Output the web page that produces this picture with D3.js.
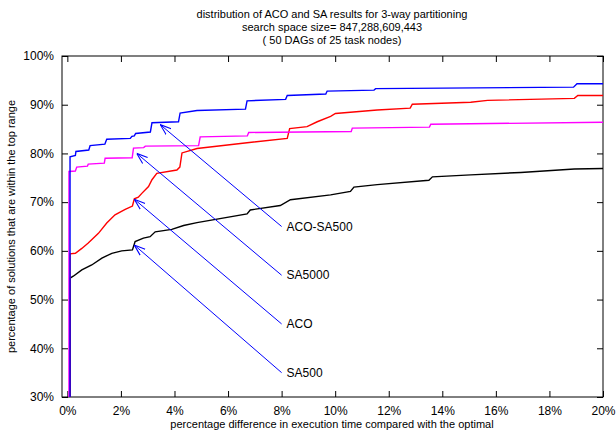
<!DOCTYPE html>
<html>
<head>
<meta charset="utf-8">
<script src="https://cdn.jsdelivr.net/npm/d3@7"></script>
<style>
  body { margin: 0; background: #fff; }
  svg text { font-family: "Liberation Sans", Arial, sans-serif; fill: #000; }
</style>
</head>
<body>
<div id="chart"></div>
<script>
// chart data (x = % difference, y = % of solutions)
var titleLines = ["distribution of ACO and SA results for 3-way partitioning",
                  "search space size= 847,288,609,443",
                  "( 50 DAGs of 25 task nodes)"];
var xTicks = [0, 2, 4, 6, 8, 10, 12, 14, 16, 18, 20];
var yTicks = [30, 40, 50, 60, 70, 80, 90, 100];

var acoSa500 = [[0.1,30],[0.1,79.3],[0.3,79.6],[0.32,80.4],[0.8,80.7],[0.85,81.6],[1.4,81.9],[1.47,82.9],
  [2.35,83.1],[2.41,83.5],[2.5,83.6],[2.55,84.1],[3.1,84.4],[3.16,86.3],[4.15,86.5],[4.21,88.3],[4.84,88.8],
  [6.65,89.1],[6.71,90.8],[8.15,91.1],[8.21,91.9],[9.65,92.2],[9.7,92.8],[11.45,93.0],[11.51,93.3],
  [18.9,93.6],[19.03,94.3],[20,94.3]];
var sa5000 = [[0.06,30],[0.06,76.3],[0.3,76.4],[0.35,77.2],[0.75,77.4],[0.78,77.8],[1.38,78.0],[1.41,79.0],
  [2.42,79.1],[2.47,81.1],[2.85,81.2],[2.91,81.5],[4.9,81.6],[4.96,83.4],[6.72,83.6],[6.77,84.3],
  [10.6,84.5],[10.64,85.2],[13.52,85.4],[13.57,86.0],[20,86.4]];
var aco = [[0.1,30],[0.1,59.4],[0.3,59.5],[0.54,60.5],[0.78,61.6],[1.16,63.6],[1.47,65.7],[1.78,67.4],
  [2.16,68.5],[2.43,69.2],[2.5,70.7],[2.65,71.0],[2.78,71.8],[3.03,73.2],[3.16,74.6],[3.34,75.9],
  [4.09,76.6],[4.2,77.2],[4.28,80.1],[4.84,81.0],[6.71,82.2],[8.21,83.1],[8.3,85.1],[8.95,85.5],
  [9.33,86.5],[9.83,87.6],[10.01,88.2],[11.57,88.9],[12.8,89.3],[12.88,90.1],[15.06,90.5],[15.69,90.9],
  [18.93,91.3],[19.06,91.9],[20,91.9]];
var sa500 = [[0.1,30],[0.1,54.4],[0.22,54.8],[0.54,56.1],[0.91,57.1],[1.29,58.5],[1.66,59.5],[2.03,60.0],
  [2.43,60.2],[2.53,61.9],[2.84,62.6],[3.09,62.9],[3.28,63.9],[3.9,64.4],[4.34,65.2],[4.84,65.8],
  [6.71,67.6],[6.83,68.4],[7.95,69.3],[8.33,70.5],[9.83,71.5],[10.57,72.2],[10.7,73.1],[11.57,73.6],
  [13.5,74.5],[13.63,75.2],[15.06,75.6],[16.93,76.1],[18.93,76.8],[20,76.9]];

// labels with arrows: label names, arrow tails (label anchor) and arrow tips
var arrowNames = ["ACO-SA500", "SA5000", "ACO", "SA500"];
var arrowFrom = [[8.0, 65.0], [8.0, 55.0], [8.0, 45.0], [8.0, 35.0]];
var arrowTo = [[3.47, 85.9], [2.59, 80.0], [2.5, 70.6], [2.5, 61.2]];

var series = [
  {name: "SA500", values: sa500, color: "#000000"},
  {name: "ACO", values: aco, color: "#ff0000"},
  {name: "SA5000", values: sa5000, color: "#ff00ff"},
  {name: "ACO-SA500", values: acoSa500, color: "#0000ff"}
];

//Set dimensions
var width = 616, height = 433;
var mLeft = 62, mRight = 603, mTop = 56, mBottom = 397;

var x = d3.scaleLinear().domain([-0.2, 20]).range([mLeft, mRight]);
var y = d3.scaleLinear().domain([30, 100]).range([mBottom, mTop]);

var svg = d3.select("#chart").append("svg")
    .attr("width", width)
    .attr("height", height);

//Title
svg.append("g").selectAll("text")
    .data(titleLines)
    .enter().append("text")
    .attr("x", 332)
    .attr("y", function (d, i) { return 18 + i * 13; })
    .attr("text-anchor", "middle")
    .style("font-size", "11px")
    .text(function (d) { return d; });

//Axes with inward ticks, mirrored on top and right
var fmt = function (d) { return d + "%"; };
var gx = svg.append("g").attr("transform", "translate(0," + mBottom + ")")
    .call(d3.axisBottom(x).tickValues(xTicks).tickFormat(fmt).tickSizeInner(-6).tickSizeOuter(0).tickPadding(8));
var gy = svg.append("g").attr("transform", "translate(" + mLeft + ",0)")
    .call(d3.axisLeft(y).tickValues(yTicks).tickFormat(fmt).tickSizeInner(-6).tickSizeOuter(0).tickPadding(8));
var gxt = svg.append("g").attr("transform", "translate(0," + mTop + ")")
    .call(d3.axisTop(x).tickValues(xTicks).tickFormat("").tickSizeInner(-6).tickSizeOuter(0));
var gyr = svg.append("g").attr("transform", "translate(" + mRight + ",0)")
    .call(d3.axisRight(y).tickValues(yTicks).tickFormat("").tickSizeInner(-6).tickSizeOuter(0));

[gx, gy, gxt, gyr].forEach(function (g) {
    g.select(".domain").remove();
    g.selectAll("text").style("font-size", "12px").attr("font-family", null);
});
gx.selectAll("text").attr("dy", "0.85em");

//Border
svg.append("rect")
    .attr("x", mLeft).attr("y", mTop)
    .attr("width", mRight - mLeft).attr("height", mBottom - mTop)
    .style("fill", "none").style("stroke", "#000").style("stroke-width", 1);

//Axis titles
svg.append("text")
    .attr("x", 332).attr("y", 428)
    .attr("text-anchor", "middle")
    .style("font-size", "11px")
    .text("percentage difference in execution time compared with the optimal");
svg.append("text")
    .attr("transform", "translate(15," + ((mTop + mBottom) / 2) + ") rotate(-90)")
    .attr("text-anchor", "middle")
    .style("font-size", "11px")
    .text("percentage of solutions that are within the top range");

//Lines
var line = d3.line()
    .x(function (d) { return x(d[0]); })
    .y(function (d) { return y(d[1]); });

var defs = svg.append("defs");
defs.append("clipPath").attr("id", "clip")
    .append("rect").attr("x", mLeft).attr("y", mTop)
    .attr("width", mRight - mLeft).attr("height", mBottom - mTop);

svg.append("g").attr("clip-path", "url(#clip)")
    .selectAll("path")
    .data(series)
    .enter().append("path")
    .attr("d", function (d) { return line(d.values); })
    .style("fill", "none")
    .style("stroke", function (d) { return d.color; })
    .style("stroke-width", 1.4);

//Arrows with open heads
defs.append("marker")
    .attr("id", "head")
    .attr("viewBox", "0 -5 10 10")
    .attr("refX", 10).attr("refY", 0)
    .attr("markerWidth", 11).attr("markerHeight", 11)
    .attr("markerUnits", "userSpaceOnUse")
    .attr("orient", "auto")
    .append("path")
    .attr("d", "M0,-3.5L10,0L0,3.5")
    .style("fill", "none")
    .style("stroke", "#0000ff")
    .style("stroke-width", 1);

var arrows = svg.append("g").selectAll("g")
    .data(arrowNames)
    .enter().append("g");

arrows.append("line")
    .attr("x1", function (d, i) { return x(arrowFrom[i][0]); })
    .attr("y1", function (d, i) { return y(arrowFrom[i][1]); })
    .attr("x2", function (d, i) { return x(arrowTo[i][0]); })
    .attr("y2", function (d, i) { return y(arrowTo[i][1]); })
    .style("stroke", "#0000ff")
    .style("stroke-width", 1)
    .attr("marker-end", "url(#head)");

arrows.append("text")
    .attr("x", function (d, i) { return x(arrowFrom[i][0]) + 5; })
    .attr("y", function (d, i) { return y(arrowFrom[i][1]); })
    .attr("dy", "0.35em")
    .style("font-size", "12px")
    .text(function (d) { return d; });
</script>
</body>
</html>
